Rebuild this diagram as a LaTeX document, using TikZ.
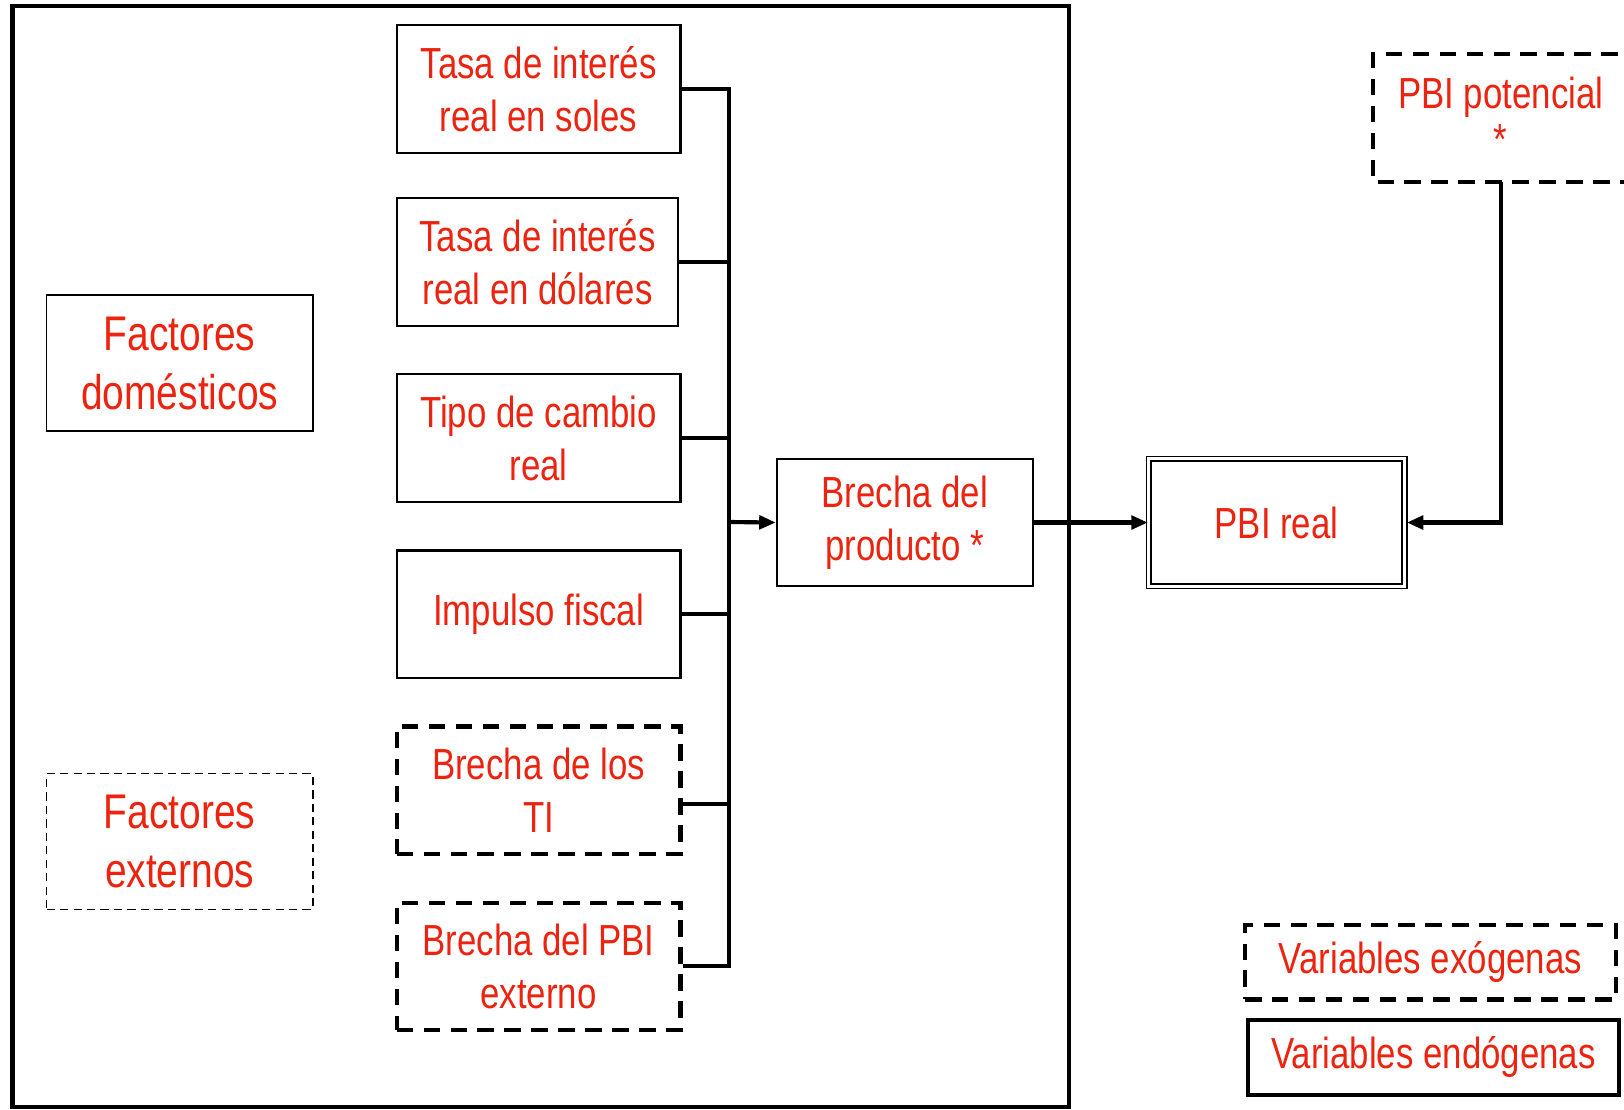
\documentclass[tikz,border=0pt]{standalone}
\usepackage{fontspec}
\setmainfont{Liberation Sans}[FakeStretch=0.8]
\usetikzlibrary{arrows.meta}
\definecolor{txtred}{RGB}{235,35,15}
\tikzset{
  var/.style={draw, line width=1pt, align=center, text=txtred,
    minimum width=137pt, minimum height=61.5pt, inner sep=0pt,
    font=\fontsize{21}{25.5}\selectfont},
  exo/.style={var, line width=2pt, dash pattern=on 8pt off 5pt},
  factor/.style={draw, line width=0.8pt, align=center, text=txtred,
    minimum width=128.5pt, minimum height=65.5pt, inner sep=0pt,
    font=\fontsize{23.5}{28.5}\selectfont},
  conn/.style={line width=2pt},
  arr/.style={conn, -{Triangle[length=8pt,width=6.5pt]}}
}
\begin{document}
\begin{tikzpicture}[x=0.5pt,y=-0.5pt]
  \useasboundingbox (0,0) rectangle (1568,1071);
  \clip (0,0) rectangle (1568,1071);
  \draw[line width=2pt] (12,6) rectangle (1032,1069);
  \draw
    (173.5,350.5) node[factor] (dom){Factores\\dom\'esticos}
    (173.5,812.5) node[factor, line width=0.75pt, dash pattern=on 4pt off 2.5pt] (ext){Factores\\externos}
    (520,86) node[var] (soles){Tasa de inter\'es\\real en soles}
    (519,253) node[var, minimum width=136pt] (dolares){Tasa de inter\'es\\real en d\'olares}
    (520,423) node[var] (tcr){Tipo de cambio\\real}
    (520,593) node[var] (impulso){Impulso fiscal}
    (520,763) node[exo] (brti){Brecha de los\\TI}
    (520,933) node[exo] (brpbi){Brecha del PBI\\externo}
    (873.5,504.5) node[var, minimum width=123.5pt] (brprod){Brecha del\\producto *}
    (1232.5,504.5) node[var, minimum width=123.5pt, line width=0.75pt, double, double distance=1.5pt] (real){PBI real}
    (1449,112) node[text=txtred, align=center, font=\fontsize{21}{22}\selectfont] (pot){PBI potencial\\*}
    (1381,929) node[exo, minimum width=179pt, minimum height=36pt] (lexo){Variables ex\'ogenas}
    (1384,1021) node[var, line width=2pt, minimum width=179pt, minimum height=36pt] (lendo){Variables end\'ogenas};
  \draw[exo] (1640,52) -- (1326,52) -- (1326,176) -- (1640,176);
  \coordinate (bus) at (704,504);
  \coordinate (potb) at (1449,176);
  \begin{scope}[conn]
    \draw (soles.east) -| (bus);
    \draw (dolares.east) -| (bus);
    \draw (tcr.east) -| (bus);
    \draw (impulso.east) -| (bus);
    \draw ([yshift=-6.5pt]brti.east) -| (bus);
    \draw (brpbi.east) -| (bus);
  \end{scope}
  \begin{scope}[arr]
    \draw (bus) to (brprod.west);
    \draw (brprod.east) to (real.west);
    \draw (potb) |- ([xshift=0.75pt]real.east);
  \end{scope}
\end{tikzpicture}
\end{document}
